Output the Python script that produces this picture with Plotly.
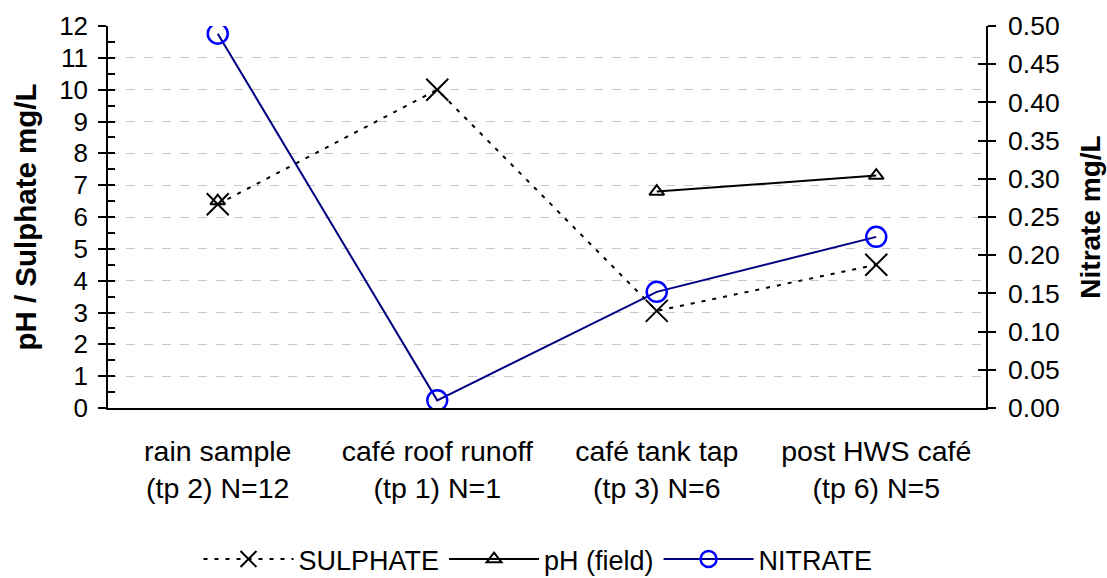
import plotly.graph_objects as go

categories = ["rain sample<br>(tp 2) N=12", "café roof runoff<br>(tp 1) N=1",
              "café tank tap<br>(tp 3) N=6", "post HWS café<br>(tp 6) N=5"]
sulphate = [6.4, 10.0, 3.05, 4.5]
ph_field = [6.5, None, 6.8, 7.3]
nitrate = [0.49, 0.01, 0.152, 0.224]

left_ticks = list(range(0, 13))
right_ticks = [i * 0.05 for i in range(11)]

FONT = "Liberation Sans, Arial, sans-serif"

fig = go.Figure()

fig.add_trace(go.Scatter(
    x=categories, y=sulphate, name="SULPHATE", mode="lines+markers",
    line=dict(color="black", width=2, dash="4px,7px"),
    marker=dict(symbol="x-thin", size=22, line=dict(color="black", width=2)),
    yaxis="y"))
fig.add_trace(go.Scatter(
    x=categories, y=ph_field, name="pH (field)", mode="lines+markers",
    line=dict(color="black", width=2), connectgaps=False,
    marker=dict(symbol="triangle-up-open", size=13, color="black", line=dict(width=2)),
    yaxis="y"))
fig.add_trace(go.Scatter(
    x=categories, y=nitrate, name="NITRATE", mode="lines+markers",
    line=dict(color="#000080", width=2),
    marker=dict(symbol="circle-open", size=20, color="#0000FF", line=dict(width=2.5)),
    yaxis="y2"))

fig.update_layout(
    width=1107, height=578,
    margin=dict(l=108, r=121, t=26, b=170),
    paper_bgcolor="white", plot_bgcolor="white",
    font=dict(family=FONT, size=26, color="black"),
    showlegend=True,
    legend=dict(orientation="h", x=0.486, xanchor="center", xref="container",
                y=0.032, yanchor="middle", yref="container",
                font=dict(size=27), itemwidth=90, bgcolor="rgba(0,0,0,0)",
                traceorder="normal"),
    xaxis=dict(type="category", range=[-0.5, 3.5], showline=True, linecolor="black",
               linewidth=1.5, ticks="", showgrid=False, tickfont=dict(size=28.5),
               ticklabelstandoff=17, automargin=False),
    yaxis=dict(range=[0, 12], tickvals=left_ticks, showline=True, linecolor="black",
               linewidth=1.5, ticks="outside", ticklen=8, tickwidth=1.5, tickcolor="black",
               showgrid=True, gridcolor="#c8c8c8", griddash="dash", gridwidth=1,
               zeroline=False, tickfont=dict(size=26), automargin=False,
               ticklabelstandoff=5,
               title=dict(text="<b>pH / Sulphate mg/L</b>", font=dict(size=29.5), standoff=14)),
    yaxis2=dict(range=[0, 0.5], tickvals=right_ticks, tickformat=".2f", overlaying="y",
                side="right", showline=True, linecolor="black", linewidth=1.5,
                ticks="outside", ticklen=8, tickwidth=1.5, tickcolor="black",
                showgrid=False, zeroline=False, tickfont=dict(size=26.5), automargin=False,
                ticklabelstandoff=7,
                title=dict(text="<b>Nitrate mg/L</b>", font=dict(size=28), standoff=22)),
    yaxis3=dict(range=[0, 12], dtick=0.5, tick0=0, overlaying="y", side="left",
                ticks="inside", ticklen=7, tickwidth=1.5, tickcolor="black",
                showticklabels=False, showgrid=False, zeroline=False, showline=False,
                automargin=False),
    yaxis4=dict(range=[0, 0.5], dtick=0.05, tick0=0, overlaying="y", side="right",
                ticks="inside", ticklen=8, tickwidth=1.5, tickcolor="black",
                showticklabels=False, showgrid=False, zeroline=False, showline=False,
                automargin=False),
)

# invisible helpers so the tick-only overlay axes get drawn
fig.add_trace(go.Scatter(x=[categories[0]], y=[None], yaxis="y3", showlegend=False,
                         hoverinfo="skip", mode="markers"))
fig.add_trace(go.Scatter(x=[categories[0]], y=[None], yaxis="y4", showlegend=False,
                         hoverinfo="skip", mode="markers"))

fig.write_html("out.html")
